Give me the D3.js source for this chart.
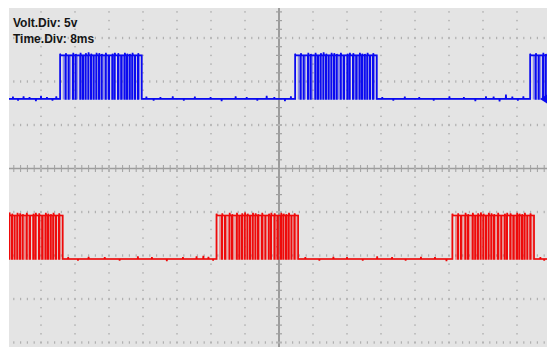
<!DOCTYPE html>
<html>
<head>
<meta charset="utf-8">
<script src="https://cdn.jsdelivr.net/npm/d3@7"></script>
<style>
  html, body { margin: 0; padding: 0; background: #ffffff; }
  svg { display: block; }
</style>
</head>
<body>
<svg id="scope" width="547" height="347"></svg>
<script>
// ---- scope settings ----
const voltsPerDiv = 5;
const msPerDiv = 8;
const readoutLabels = ["Volt.Div: 5v", "Time.Div: 8ms"];

// ---- channel 1 (blue): frame start times (ms) and trace offset (V) ----
const ch1FrameStarts = [-51.5, 3.8, 59.1];
const ch1Offset = 8.0;

// ---- channel 2 (red): frame start times (ms) and trace offset (V) ----
const ch2FrameStarts = [-70.1, -14.7, 40.8];
const ch2Offset = -10.4;

// ---- one data frame: high level, length and the short low dips inside it (ms from frame start) ----
const highLevel = 5.0;
const frameLength = 19.2;
const dipWidth = 0.1;
const frameDips = [1.25, 1.95, 2.99, 3.6, 4.7, 5.34, 5.95, 6.59, 7.22, 7.84, 8.47, 9.1,
                   9.72, 10.66, 11.46, 12.24, 12.78, 13.58, 14.35, 15.13, 15.69, 16.31,
                   16.94, 17.58, 18.28];
// overshoot (V) on the rising edge that closes each dip
const frameOvershoot = [0.25, 0, 0.3, 0.15, 0.3, 0, 0.25, 0.35, 0.2, 0, 0.3, 0.25, 0.15,
                        0.3, 0, 0.2, 0.3, 0.25, 0, 0.3, 0.2, 0.15, 0.3, 0, 0.25];
const frameFaintDips = [0.78, 2.35, 4.0, 5.0, 10.1, 11.0, 14.0, 14.7, 16.6, 18.6];

// ---- baseline noise spikes: [time ms, deviation V] ----
const ch1Noise = [[-62.6, 0.25], [-61.4, -0.2], [-60.1, 0.3], [-58.7, 0.2], [-57.2, -0.25],
  [-56.0, 0.35], [-54.6, 0.2], [-53.3, -0.2], [-52.4, 0.3], [-31.2, 0.25], [-29.5, -0.2],
  [-27.9, 0.2], [-25.0, 0.3], [-22.4, -0.2], [-19.8, 0.25], [-16.1, 0.2], [-13.5, -0.25],
  [-10.2, 0.3], [-7.6, 0.2], [-5.1, -0.2], [-2.9, 0.35], [-1.1, 0.2], [1.4, -0.25], [2.8, 0.3],
  [24.3, 0.2], [26.9, -0.2], [29.6, 0.25], [33.0, 0.2], [36.4, -0.2], [40.1, 0.3], [43.5, 0.2],
  [46.2, -0.25], [48.7, 0.3], [50.5, 0.25], [51.9, -0.3], [53.4, 0.5], [54.9, 0.25],
  [56.2, -0.2], [57.5, 0.3]];
const ch2Noise = [[-49.6, 0.2], [-47.3, -0.2], [-44.8, 0.25], [-41.0, 0.2], [-37.5, -0.2],
  [-33.2, 0.3], [-29.9, 0.2], [-26.4, -0.25], [-22.6, 0.2], [-19.4, 0.3], [-17.8, 0.35],
  [-16.6, 0.25], [-15.5, -0.2], [6.2, 0.2], [9.5, -0.2], [12.8, 0.25], [16.0, 0.2],
  [19.7, -0.2], [23.1, 0.3], [26.6, 0.2], [29.8, -0.2], [33.4, 0.25], [36.7, 0.2],
  [39.4, -0.25], [61.5, 0.2], [62.4, -0.2]];

// ---- layout ----
const svg = d3.select("#scope");
const plot = { left: 9, top: 8, right: 547, bottom: 347 };
const cx = 279, cy = 168.5, divW = 34, divH = 43.5;

const x = d3.scaleLinear().domain([-msPerDiv, msPerDiv]).range([cx - divW, cx + divW]);
const y = d3.scaleLinear().domain([-voltsPerDiv, voltsPerDiv]).range([cy + divH, cy - divH]);

svg.append("defs").append("clipPath").attr("id", "plotClip")
  .append("rect")
  .attr("x", plot.left).attr("y", plot.top)
  .attr("width", plot.right - plot.left).attr("height", plot.bottom - plot.top);

svg.append("rect")
  .attr("x", plot.left).attr("y", plot.top)
  .attr("width", plot.right - plot.left).attr("height", plot.bottom - plot.top)
  .attr("fill", "#e4e4e4");

const g = svg.append("g").attr("clip-path", "url(#plotClip)");

// ---- graticule ----
const colIdx = d3.range(Math.ceil((plot.left - cx) / divW), Math.floor((plot.right - cx) / divW) + 1).filter(k => k !== 0);
const rowIdx = d3.range(Math.ceil((plot.top - cy) / divH), Math.floor((plot.bottom - cy) / divH) + 1).filter(k => k !== 0);
const minorW = divW / 5, minorH = divH / 5;
const minorCols = d3.range(Math.ceil((plot.left - cx) / minorW), Math.floor((plot.right - cx) / minorW) + 1);
const minorRows = d3.range(Math.ceil((plot.top - cy) / minorH), Math.floor((plot.bottom - cy) / minorH) + 1);

const grid = g.append("g");
// dotted vertical division lines
colIdx.forEach(k => {
  minorRows.filter(j => j !== 0).forEach(j => {
    grid.append("rect")
      .attr("x", cx + k * divW - 1).attr("y", cy + j * minorH - 0.7)
      .attr("width", 2).attr("height", 1.4)
      .attr("fill", "#bcbcbc");
  });
});
// dotted horizontal division lines
rowIdx.forEach(k => {
  minorCols.filter(i => i !== 0).forEach(i => {
    grid.append("rect")
      .attr("x", cx + i * minorW - 0.6).attr("y", cy + k * divH - 1.2)
      .attr("width", 1.2).attr("height", 2.4)
      .attr("fill", "#b0b0b0");
  });
});

// centre axes with minor ticks
grid.append("line")
  .attr("x1", plot.left).attr("x2", plot.right).attr("y1", cy).attr("y2", cy)
  .attr("stroke", "#9c9c9c").attr("stroke-width", 1.6);
grid.append("line")
  .attr("x1", cx).attr("x2", cx).attr("y1", plot.top).attr("y2", plot.bottom)
  .attr("stroke", "#9c9c9c").attr("stroke-width", 2);
minorCols.filter(i => i !== 0).forEach(i => {
  const major = i % 5 === 0;
  grid.append("line")
    .attr("x1", cx + i * minorW).attr("x2", cx + i * minorW)
    .attr("y1", cy - 3.5).attr("y2", cy + 3.5)
    .attr("stroke", major ? "#b4b4b4" : "#a0a0a0")
    .attr("stroke-width", major ? 2 : 1);
});
minorRows.filter(j => j !== 0).forEach(j => {
  const major = j % 5 === 0;
  grid.append("line")
    .attr("x1", cx - 3).attr("x2", cx + 3)
    .attr("y1", cy + j * minorH).attr("y2", cy + j * minorH)
    .attr("stroke", major ? "#b4b4b4" : "#a0a0a0")
    .attr("stroke-width", major ? 2 : 1.2);
});

// ---- traces ----
// builds [time, volts] vertices for a channel: frames of dips, plus baseline noise spikes
function tracePoints(starts, dips, overshoot, noise) {
  const pts = [[-200, 0]];
  starts.forEach(s => {
    pts.push([s, 0], [s, highLevel + 0.2], [s + 0.1, highLevel]);
    dips.forEach((d, i) => {
      const o = overshoot ? overshoot[i] : 0;
      pts.push([s + d, highLevel], [s + d, 0], [s + d + dipWidth, 0], [s + d + dipWidth, highLevel + o]);
      if (o) pts.push([s + d + dipWidth + 0.1, highLevel]);
    });
    pts.push([s + frameLength, highLevel], [s + frameLength, 0]);
  });
  pts.push([200, 0]);
  noise.forEach(([t, dv]) => pts.push([t - 0.07, 0], [t, dv], [t + 0.07, 0]));
  pts.sort((p, q) => p[0] - q[0]);
  return pts;
}

function drawChannel(starts, offset, noise, color) {
  const line = d3.line().x(p => x(p[0])).y(p => y(p[1] + offset));
  g.append("path")
    .attr("d", line(tracePoints(starts, frameFaintDips, null, [])))
    .attr("fill", "none").attr("stroke", color)
    .attr("stroke-width", 1.4).attr("opacity", 0.4);
  g.append("path")
    .attr("d", line(tracePoints(starts, frameDips, frameOvershoot, noise)))
    .attr("fill", "none").attr("stroke", color)
    .attr("stroke-width", 1.7).attr("stroke-linejoin", "miter");
}

drawChannel(ch1FrameStarts, ch1Offset, ch1Noise, "#0a0af0");
drawChannel(ch2FrameStarts, ch2Offset, ch2Noise, "#ee0a0a");

// channel 1 ground marker at right edge
const gy = y(ch1Offset);
g.append("path")
  .attr("d", `M${plot.right - 7},${gy} L${plot.right},${gy - 4.5} L${plot.right},${gy + 4.5} Z`)
  .attr("fill", "#0a0af0");

// ---- readout ----
svg.append("g").selectAll("text")
  .data(readoutLabels)
  .join("text")
  .attr("x", 13)
  .attr("y", (d, i) => 27 + i * 15.5)
  .attr("font-family", "'Liberation Sans', Arial, sans-serif")
  .attr("font-weight", "bold")
  .attr("font-size", 12)
  .attr("fill", "#151515")
  .text(d => d);
</script>
</body>
</html>
